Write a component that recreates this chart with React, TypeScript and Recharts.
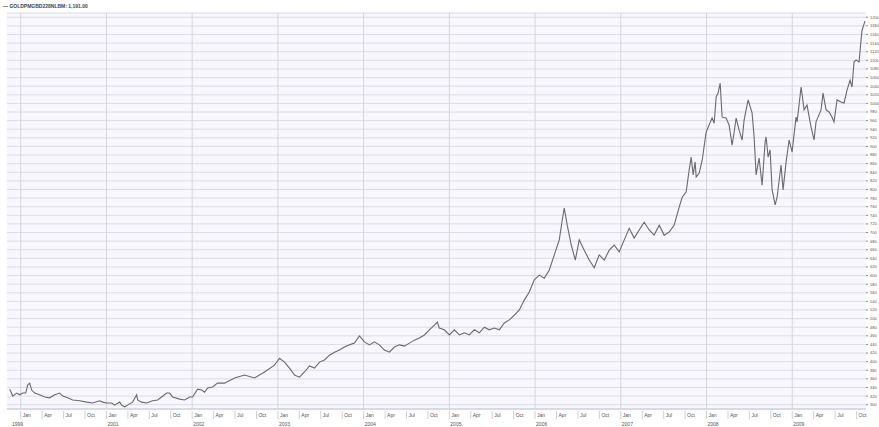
import React from "react";
import {
  CartesianGrid,
  Line,
  LineChart,
  ReferenceLine,
  XAxis,
  YAxis,
} from "recharts";

// weekly observations, date as decimal year
const dates = [
  1999.872, 1999.907, 1999.953, 1999.988, 2000.023, 2000.058, 2000.082, 2000.105,
  2000.128, 2000.163, 2000.221, 2000.28, 2000.338, 2000.396, 2000.455, 2000.49,
  2000.548, 2000.606, 2000.688, 2000.769, 2000.839, 2000.921, 2000.956, 2001.002,
  2001.061, 2001.096, 2001.154, 2001.177, 2001.212, 2001.247, 2001.305, 2001.352,
  2001.364, 2001.41, 2001.469, 2001.538, 2001.597, 2001.643, 2001.702, 2001.737,
  2001.772, 2001.853, 2001.911, 2001.97, 2002.005, 2002.063, 2002.11, 2002.145,
  2002.18, 2002.238, 2002.296, 2002.378, 2002.494, 2002.611, 2002.727, 2002.844,
  2002.96, 2003.019, 2003.077, 2003.135, 2003.193, 2003.252, 2003.31, 2003.368,
  2003.427, 2003.485, 2003.543, 2003.601, 2003.66, 2003.718, 2003.776, 2003.834,
  2003.893, 2003.951, 2004.009, 2004.068, 2004.126, 2004.184, 2004.242, 2004.301,
  2004.359, 2004.417, 2004.476, 2004.534, 2004.592, 2004.65, 2004.709, 2004.767,
  2004.825, 2004.86, 2004.883, 2004.942, 2005.0, 2005.058, 2005.117, 2005.175,
  2005.233, 2005.291, 2005.35, 2005.408, 2005.466, 2005.524, 2005.583, 2005.641,
  2005.699, 2005.758, 2005.816, 2005.874, 2005.932, 2005.991, 2006.049, 2006.107,
  2006.166, 2006.224, 2006.282, 2006.317, 2006.34, 2006.375, 2006.422, 2006.469,
  2006.515, 2006.573, 2006.632, 2006.69, 2006.748, 2006.807, 2006.865, 2006.923,
  2006.981, 2007.04, 2007.098, 2007.156, 2007.214, 2007.273, 2007.331, 2007.389,
  2007.448, 2007.506, 2007.564, 2007.622, 2007.681, 2007.716, 2007.762, 2007.797,
  2007.821, 2007.844, 2007.867, 2007.879, 2007.914, 2007.949, 2007.995, 2008.03,
  2008.065, 2008.089, 2008.112, 2008.135, 2008.159, 2008.17, 2008.182, 2008.228,
  2008.263, 2008.298, 2008.322, 2008.345, 2008.38, 2008.415, 2008.438, 2008.485,
  2008.531, 2008.555, 2008.578, 2008.613, 2008.648, 2008.683, 2008.695, 2008.718,
  2008.741, 2008.765, 2008.8, 2008.823, 2008.869, 2008.893, 2008.928, 2008.963,
  2008.998, 2009.044, 2009.056, 2009.103, 2009.138, 2009.172, 2009.219, 2009.254,
  2009.277, 2009.336, 2009.359, 2009.394, 2009.429, 2009.464, 2009.487, 2009.522,
  2009.569, 2009.604, 2009.639, 2009.674, 2009.697, 2009.72, 2009.744, 2009.779,
  2009.802, 2009.814, 2009.848,
];

const prices = [
  336, 320, 327, 323, 327, 327, 346, 350,
  334, 327, 323, 318, 316, 323, 327, 320,
  316, 311, 309, 306, 304, 309, 306, 304,
  304, 299, 306, 299, 295, 299, 306, 323,
  311, 306, 304, 309, 311, 318, 327, 327,
  318, 313, 311, 318, 318, 336, 334, 329,
  339, 341, 350, 350, 362, 369, 362, 376,
  392, 408, 399, 385, 369, 364, 376, 390,
  385, 399, 404, 415, 422, 427, 434, 439,
  443, 460, 446, 439, 446, 439, 427, 422,
  434, 439, 436, 443, 450, 455, 462, 474,
  485, 492, 478, 474, 462, 474, 462, 467,
  462, 474, 467, 480, 474, 478, 474, 490,
  497, 508, 520, 543, 562, 590, 601, 594,
  613, 648, 683, 729, 757, 717, 671, 636,
  683, 659, 636, 618, 648, 636, 659, 671,
  655, 683, 710, 687, 706, 724, 706, 694,
  717, 694, 701, 717, 759, 782, 794, 845,
  875, 834, 864, 829, 838, 868, 933, 950,
  966, 954, 1015, 1024, 1047, 1008, 968, 966,
  950, 903, 933, 966, 938, 915, 961, 1008,
  978, 922, 834, 873, 810, 910, 922, 875,
  892, 799, 764, 782, 857, 799, 864, 915,
  887, 968, 957, 1038, 985, 996, 945, 915,
  957, 985, 1024, 985, 980, 968, 957, 1008,
  1003, 1001, 1031, 1054, 1038, 1096, 1101, 1096,
  1147, 1170, 1191,
];

const years = [2000, 2001, 2002, 2003, 2004, 2005, 2006, 2007, 2008, 2009];
const monthLabels = ["Jan", "Apr", "Jul", "Oct"];
const firstYearLabel = "1999";
const seriesName = "GOLDPMGBD228NLBM: 1,191.00";

const X_MIN = 1999.84;
const X_MAX = 2009.86;

const data = dates.map((t, i) => ({ t, price: prices[i] }));

const quarterTicks: number[] = [X_MIN];
years.forEach((y) => monthLabels.forEach((_, q) => quarterTicks.push(y + q * 0.25)));

const priceTicks: number[] = [];
for (let v = 300; v <= 1200; v += 20) priceTicks.push(v);

const FONT = "'Liberation Sans', Arial, sans-serif";

function QuarterTick(props: any) {
  const { x, y, payload } = props;
  const t: number = payload.value;
  if (t < 2000) {
    return (
      <text x={x + 5} y={y + 15} fontSize={5} fill="#555" fontFamily={FONT}>
        {firstYearLabel}
      </text>
    );
  }
  const q = Math.round((t - Math.floor(t)) * 4);
  const year = Math.floor(t + 0.001);
  return (
    <g>
      <line x1={x} y1={y} x2={x} y2={y + 8} stroke="#d0d0d8" strokeWidth={1} />
      <text x={x + 2} y={y + 6} fontSize={5} fill="#555" fontFamily={FONT}>
        {monthLabels[q]}
      </text>
      {q === 0 && year > 2000 && (
        <text x={x + 1} y={y + 15} fontSize={5} fill="#555" fontFamily={FONT}>
          {year}
        </text>
      )}
    </g>
  );
}

export default function App() {
  return (
    <div style={{ position: "absolute", left: 0, top: 0, width: 879, height: 427, background: "#fff" }}>
      <div
        style={{
          position: "absolute",
          left: 3,
          top: 3,
          fontSize: 5,
          fontWeight: "bold",
          color: "#444",
          fontFamily: FONT,
          whiteSpace: "nowrap",
        }}
      >
        — {seriesName}
      </div>
      <LineChart
        width={879}
        height={427}
        data={data}
        margin={{ top: 13, right: 0, left: 7, bottom: 0 }}
      >
        <CartesianGrid vertical={false} stroke="#dcdce8" fill="#f7f7fd" />
        {years.map((y) => (
          <ReferenceLine key={y} x={y} stroke="#d4d4dc" strokeWidth={1} />
        ))}
        <XAxis
          dataKey="t"
          type="number"
          domain={[X_MIN, X_MAX]}
          ticks={quarterTicks}
          tick={<QuarterTick />}
          tickLine={false}
          tickSize={0}
          height={18}
          axisLine={{ stroke: "#c8c8d0" }}
          interval={0}
          allowDataOverflow
        />
        <YAxis
          orientation="right"
          domain={[290, 1210]}
          ticks={priceTicks}
          width={13}
          interval={0}
          tickSize={2}
          tickLine={{ stroke: "#888" }}
          axisLine={false}
          tick={{ fontSize: 4, fill: "#555", fontFamily: FONT }}
          allowDataOverflow
        />
        <Line
          type="linear"
          dataKey="price"
          stroke="#6a6a6a"
          strokeWidth={1.1}
          dot={false}
          isAnimationActive={false}
        />
      </LineChart>
    </div>
  );
}
